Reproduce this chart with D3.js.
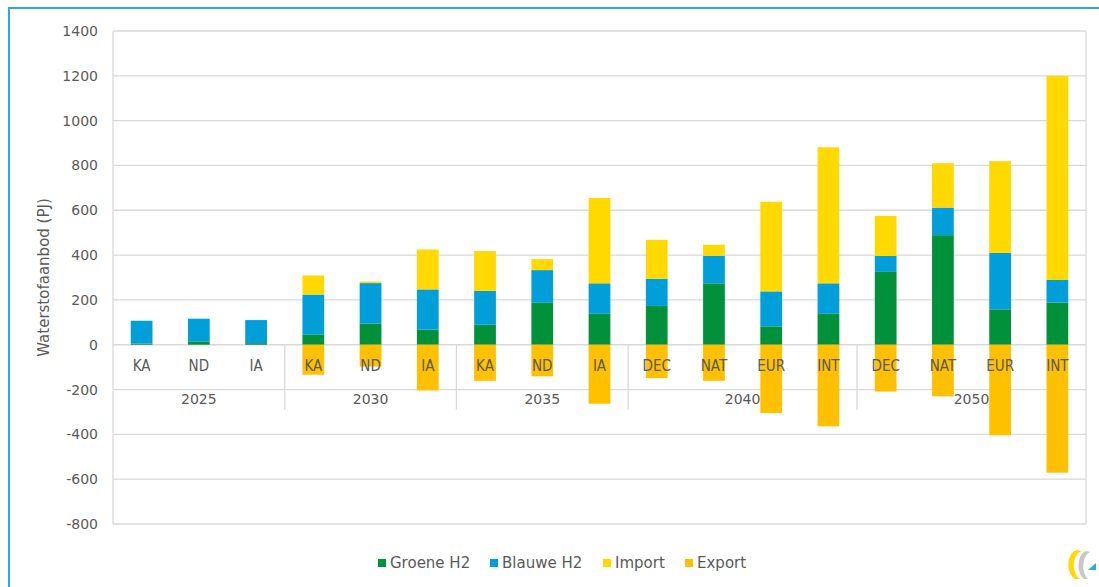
<!DOCTYPE html>
<html>
<head>
<meta charset="utf-8">
<script src="https://cdn.jsdelivr.net/npm/d3@7"></script>
<style>
  body { margin: 0; background: #fff; }
  svg text { font-family: "DejaVu Sans", sans-serif; fill: #595959; }
</style>
</head>
<body>
<div id="chart"></div>
<script>
// categories (two levels: year + scenario)
var years = ["2025", "2030", "2035", "2040", "2050"];
var scenarios = [
  ["KA", "ND", "IA"],
  ["KA", "ND", "IA"],
  ["KA", "ND", "IA"],
  ["DEC", "NAT", "EUR", "INT"],
  ["DEC", "NAT", "EUR", "INT"]
];

// series values in PJ
var groene = [5, 15, 7, 46, 95, 67, 89, 187, 138, 173, 274, 82, 138, 325, 489, 158, 188];
var blauwe = [102, 101, 103, 178, 180, 180, 151, 146, 136, 121, 123, 156, 136, 71, 123, 252, 101];
var importH2 = [0, 0, 0, 85, 7, 178, 178, 49, 381, 174, 49, 400, 607, 179, 198, 409, 911];
var exportH2 = [0, 0, 0, -134, -97, -204, -161, -141, -263, -149, -161, -305, -364, -209, -230, -404, -571];

var yTicks = [-800, -600, -400, -200, 0, 200, 400, 600, 800, 1000, 1200, 1400];

var seriesNames = ["Groene H2", "Blauwe H2", "Import", "Export"];
var seriesColors = ["#00913a", "#009fda", "#ffd900", "#ffc000"];

var width = 1099, height = 587;
var margin = {left: 113, right: 13, top: 31, bottom: 63};

// flat list of bars
var bars = [];
years.forEach(function(y, gi) {
  scenarios[gi].forEach(function(s) {
    var i = bars.length;
    bars.push({id: i, year: y, group: gi, name: s,
      values: [groene[i], blauwe[i], importH2[i], exportH2[i]]});
  });
});

var svg = d3.select("#chart").append("svg")
  .attr("width", width)
  .attr("height", height);

// outer frame
svg.append("rect")
  .attr("x", 9).attr("y", 8)
  .attr("width", 1200).attr("height", 700)
  .attr("fill", "none")
  .attr("stroke", "#29abe2")
  .attr("stroke-width", 2);

var x = d3.scaleBand()
  .domain(bars.map(function(d) { return d.id; }))
  .range([margin.left, width - margin.right])
  .padding(0);

var y = d3.scaleLinear()
  .domain([-800, 1400])
  .range([height - margin.bottom, margin.top]);

// grid lines
svg.selectAll(".grid")
  .data(yTicks)
  .enter()
  .append("line")
  .attr("class", "grid")
  .attr("x1", margin.left)
  .attr("x2", width - margin.right)
  .attr("y1", function(d) { return y(d); })
  .attr("y2", function(d) { return y(d); })
  .attr("stroke", "#d9d9d9")
  .attr("stroke-width", 1.3);

// plot borders left/right
[margin.left, width - margin.right].forEach(function(px) {
  svg.append("line")
    .attr("x1", px).attr("x2", px)
    .attr("y1", y(1400)).attr("y2", y(-800))
    .attr("stroke", "#d9d9d9")
    .attr("stroke-width", 1.3);
});

// y axis labels
var yAxis = d3.axisLeft(y).tickValues(yTicks).tickSize(0).tickPadding(15)
  .tickFormat(function(d) { return String(d); });
var yg = svg.append("g")
  .attr("transform", "translate(" + margin.left + ",0)")
  .call(yAxis);
yg.select(".domain").remove();
yg.selectAll("text")
  .style("font-size", "14px")
  .style("fill", "#595959")
  .style("font-family", "DejaVu Sans, sans-serif");

// stacked bars (positive stack from 0 up, export down)
var barW = x.bandwidth() * 0.38;
bars.forEach(function(b) {
  var pos = 0;
  b.values.forEach(function(v, si) {
    if (v === 0) return;
    var y0, y1;
    if (v > 0) { y0 = pos; y1 = pos + v; pos = y1; }
    else { y0 = v; y1 = 0; }
    svg.append("rect")
      .attr("x", x(b.id) + (x.bandwidth() - barW) / 2)
      .attr("y", y(y1))
      .attr("width", barW)
      .attr("height", y(y0) - y(y1))
      .attr("fill", seriesColors[si]);
  });
});

// group separators
var seps = [];
var acc = 0;
scenarios.forEach(function(s, i) {
  acc += s.length;
  if (i < scenarios.length - 1) seps.push(acc);
});
svg.selectAll(".sep")
  .data(seps)
  .enter()
  .append("line")
  .attr("x1", function(d) { return x(d); })
  .attr("x2", function(d) { return x(d); })
  .attr("y1", y(0))
  .attr("y2", y(0) + 65)
  .attr("stroke", "#d9d9d9")
  .attr("stroke-width", 1.3);

// category labels
svg.selectAll(".cat")
  .data(bars)
  .enter()
  .append("text")
  .attr("x", function(d) { return x(d.id) + x.bandwidth() / 2; })
  .attr("y", y(0) + 26)
  .attr("text-anchor", "middle")
  .style("font-family", "DejaVu Sans Condensed, DejaVu Sans, sans-serif")
  .style("font-size", "15px")
  .text(function(d) { return d.name; });

// year labels
var start = 0;
years.forEach(function(yr, gi) {
  var n = scenarios[gi].length;
  var cx = (x(start) + x(start + n - 1) + x.bandwidth()) / 2;
  svg.append("text")
    .attr("x", cx)
    .attr("y", y(0) + 59)
    .attr("text-anchor", "middle")
    .style("font-size", "14px")
    .text(yr);
  start += n;
});

// y title
svg.append("text")
  .attr("transform", "translate(49," + ((y(1400) + y(-800)) / 2) + ") rotate(-90)")
  .attr("text-anchor", "middle")
  .style("font-size", "15px")
  .text("Waterstofaanbod (PJ)");

// legend
var legendX = [378, 490, 603, 685];
seriesNames.forEach(function(n, i) {
  svg.append("rect")
    .attr("x", legendX[i]).attr("y", 559)
    .attr("width", 8).attr("height", 8)
    .attr("fill", seriesColors[i]);
  svg.append("text")
    .attr("x", legendX[i] + 12)
    .attr("y", 568)
    .style("font-size", "15px")
    .text(n);
});

// small logo bottom right
var logo = svg.append("g").attr("transform", "translate(1063,548)");
logo.append("path")
  .attr("d", "M14,2 C4,4 2,24 12,31 L17,31 C8,24 9,6 19,3 Z")
  .attr("fill", "#ffd900");
logo.append("path")
  .attr("d", "M23,3 C14,6 13,25 21,31 L25,31 C18,24 19,8 27,4 Z")
  .attr("fill", "#c8c8c8");
logo.append("path")
  .attr("d", "M25,22 L33,15 L33,22 Z")
  .attr("fill", "#29abe2");
</script>
</body>
</html>
